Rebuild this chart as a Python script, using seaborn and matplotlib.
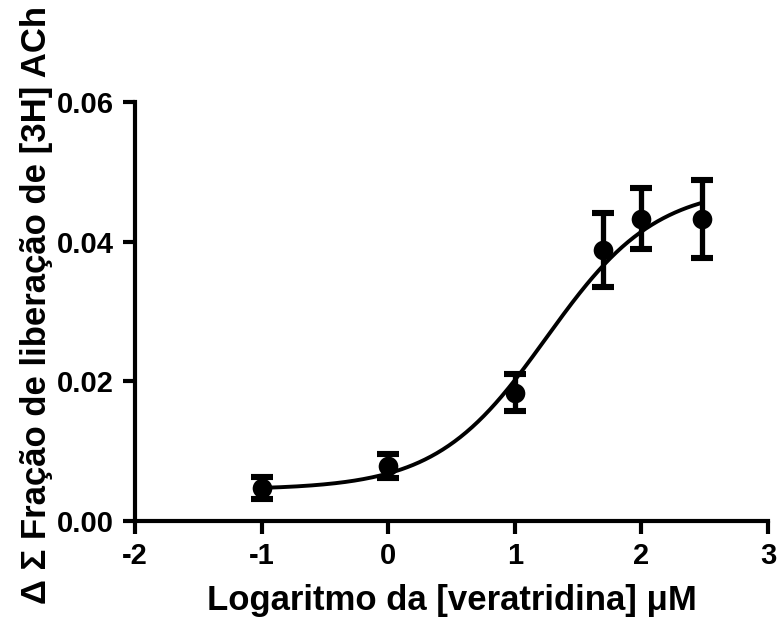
import numpy as np
import pandas as pd
import matplotlib
matplotlib.use("Agg")
import matplotlib.pyplot as plt
import seaborn as sns

# Data
log_conc = [-1.0, 0.0, 1.0, 1.699, 2.0, 2.477]
fraction = [0.0047, 0.0079, 0.0184, 0.0388, 0.0433, 0.0432]
sem = [0.0016, 0.0017, 0.0026, 0.0053, 0.0044, 0.0056]

# Sigmoidal dose-response fit parameters (estimated from the drawn curve)
fit_bottom = 0.0045
fit_top = 0.048
fit_logec50 = 1.25

x_ticks = [-2, -1, 0, 1, 2, 3]
y_ticks = [0.00, 0.02, 0.04, 0.06]
x_label = "Logaritmo da [veratridina] \u03bcM"
y_label = "\u0394 \u03a3 Fração de liberação de [3H] ACh"

sns.set_theme(style="ticks")
plt.rcParams["font.family"] = ["Liberation Sans", "DejaVu Sans"]
plt.rcParams["font.weight"] = "bold"
plt.rcParams["text.color"] = "black"
plt.rcParams["axes.labelcolor"] = "black"
plt.rcParams["xtick.color"] = "black"
plt.rcParams["ytick.color"] = "black"

fig = plt.figure(figsize=(7.82, 6.30), dpi=100)
ax = fig.add_axes([0.1726, 0.173, 0.8094, 0.665])

xs = np.linspace(min(log_conc), max(log_conc), 300)
ys = fit_bottom + (fit_top - fit_bottom) / (1 + 10 ** (fit_logec50 - xs))
curve = pd.DataFrame({"x": xs, "y": ys})
sns.lineplot(data=curve, x="x", y="y", ax=ax, color="black", linewidth=2.8)

pts = pd.DataFrame({"x": log_conc, "y": fraction, "sem": sem})
eb = ax.errorbar(pts["x"], pts["y"], yerr=pts["sem"], fmt="none", ecolor="black",
                 elinewidth=3.8, capsize=8, capthick=4.4, zorder=3)
for cap in eb[1]:
    cap.set_solid_capstyle("round")
sns.scatterplot(data=pts, x="x", y="y", ax=ax, color="black", s=200,
                edgecolor="black", linewidth=0, zorder=4)

ax.set_xlim(-2, 3)
ax.set_ylim(0, 0.06)
ax.set_xticks(x_ticks)
ax.set_yticks(y_ticks)
ax.set_xticklabels([str(t) for t in x_ticks])
ax.set_yticklabels([f"{t:.2f}" for t in y_ticks])
for s in ["top", "right"]:
    ax.spines[s].set_visible(False)
for s in ["left", "bottom"]:
    ax.spines[s].set_linewidth(3)
    ax.spines[s].set_color("black")
ax.tick_params(axis="both", direction="out", length=9, width=3, colors="black",
               labelsize=21, pad=6)
for lab in ax.get_xticklabels() + ax.get_yticklabels():
    lab.set_fontweight("bold")

ax.set_xlabel(x_label, fontsize=25, fontweight="bold", labelpad=10, color="black")
ax.set_ylabel(y_label, fontsize=25, fontweight="bold", color="black")
ax.yaxis.set_label_coords(-0.13, 0.515)

fig.savefig("out.png", dpi=100)
